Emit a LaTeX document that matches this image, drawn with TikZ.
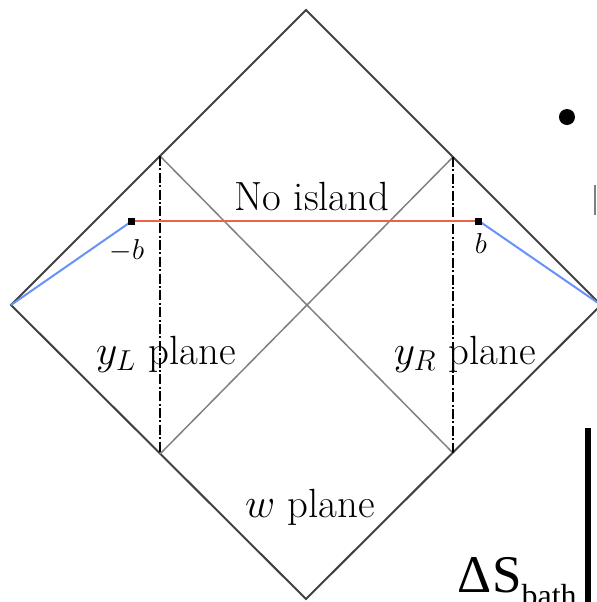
\documentclass[tikz,border=0pt]{standalone}
\usepackage{amsmath}
\usepackage{fontspec}
\newfontfamily\slidefont{Liberation Serif}
\usepackage{xcolor}
\usepackage{tikz}
\definecolor{islandred}{RGB}{238,98,72}
\definecolor{bathblue}{RGB}{105,145,250}
\definecolor{edgegray}{RGB}{65,65,65}

\begin{document}
\begin{tikzpicture}[x=0.5pt, y=0.5pt, line width=1pt,
    lab/.style={font=\fontsize{20.4}{24}\selectfont, inner sep=0, anchor=base}]
            \useasboundingbox (-306,-297) rectangle (291,305);
            \clip (-306,-297) rectangle (291,305);
            % 菱形 corners
            \coordinate (top) at (0,295);
            \coordinate (left) at (-295,0);
            \coordinate (right) at (295,0);
            \coordinate (bottom) at (0,-294);
            \draw[edgegray] (top) -- (right) -- (bottom) -- (left) -- cycle;

            % y_L, y_R 截线
            \coordinate (yLtop) at (-146,149);
            \coordinate (yLbot) at (-146,-149);
            \coordinate (yRtop) at (147,148);
            \coordinate (yRbot) at (147,-148);
            \draw[gray, line width=0.75pt] (yLtop) -- (yRbot);
            \draw[gray, line width=0.75pt] (yRtop) -- (yLbot);
            \draw[dash pattern=on 5pt off 1.2pt on 1pt off 1.2pt] (yLtop) -- (yLbot);
            \draw[dash pattern=on 5pt off 1.2pt on 1pt off 1.2pt] (yRtop) -- (yRbot);

            % 端点 -b, b
            \coordinate (mb) at (-174,84);
            \coordinate (pb) at (173,84);
            \draw[islandred] (mb) -- (pb);
            \draw[bathblue] (left) -- (mb);
            \draw[bathblue] (pb) -- (right);
            \fill (mb) +(-3.5,-3.5) rectangle +(3.5,3.5);
            \fill (pb) +(-3.5,-3.5) rectangle +(3.5,3.5);
            \node[lab, font=\fontsize{15}{18}\selectfont] (mblab) at (-179,46) {$-b$};
            \node[lab, font=\fontsize{14}{17}\selectfont] (pblab) at (175,52) {$b$};

            % 标签
            \node[lab] (noisland) at (6,95) {No island};
            \node[lab] (yL) at (-140,-59) {$y_L$ plane};
            \node[lab] (yR) at (159,-59) {$y_R$ plane};
            \node[lab] (w) at (4,-212) {$w$ plane};

            % 幻灯片其余部分
            \fill (261,188) circle (8);
            \draw[gray, line width=1pt] (289,120) -- (289,90);
            \node[anchor=base west, inner sep=0] (dS) at (151,-287)
                {\slidefont\fontsize{26.5}{30}\selectfont ΔS\raisebox{-7pt}{\fontsize{16}{18}\selectfont bath}};
            \draw[line width=3pt] (282.5,-123) -- (282.5,-297);
        \end{tikzpicture}
\end{document}
